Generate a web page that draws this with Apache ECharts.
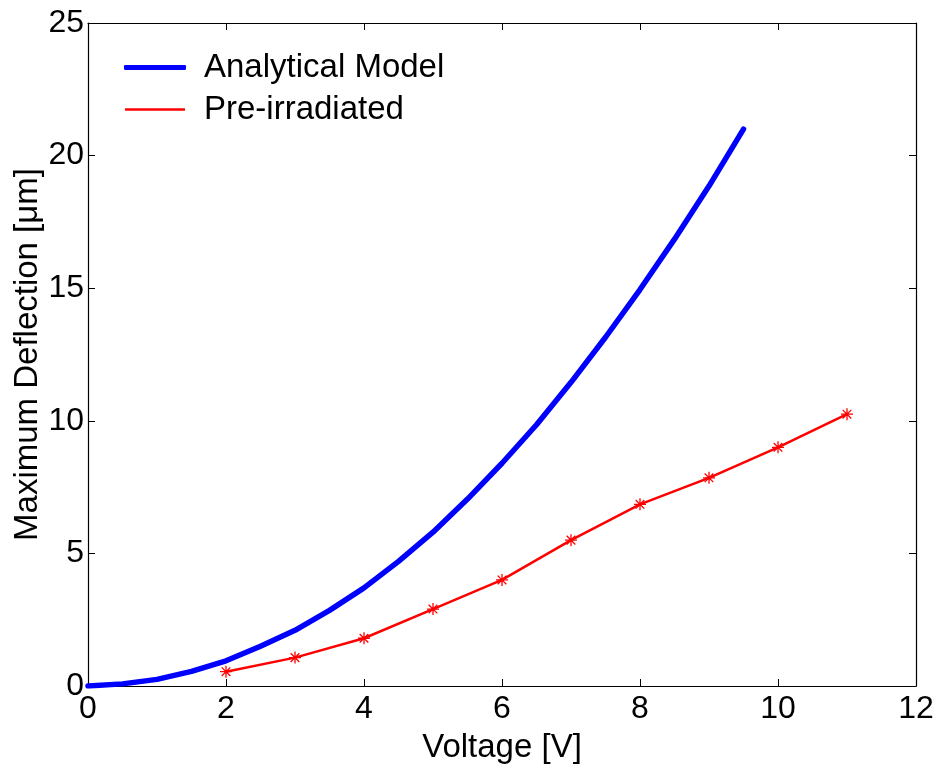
<!DOCTYPE html>
<html>
<head>
<meta charset="utf-8">
<script src="https://cdn.jsdelivr.net/npm/echarts@6/dist/echarts.min.js"></script>
<style>
  html, body { margin: 0; padding: 0; background: #fff; }
  #chart { width: 943px; height: 767px; }
</style>
</head>
<body>
<div id="chart"></div>
<script>
// Analytical model, sampled every 0.5 V
const modelVoltage = [0, 0.5, 1, 1.5, 2, 2.5, 3, 3.5, 4, 4.5, 5, 5.5, 6, 6.5, 7, 7.5, 8, 8.5, 9, 9.5];
const modelDeflection = [0, 0.08, 0.25, 0.55, 0.95, 1.5, 2.1, 2.85, 3.7, 4.7, 5.8, 7.05, 8.4, 9.85, 11.45, 13.15, 14.95, 16.85, 18.85, 21.0];

// Measured, pre-irradiated device
const measVoltage = [2, 3, 4, 5, 6, 7, 8, 9, 10, 11];
const measDeflection = [0.54, 1.07, 1.8, 2.9, 4.0, 5.5, 6.85, 7.85, 9.0, 10.25];

const xTicks = [0, 2, 4, 6, 8, 10, 12];
const yTicks = [0, 5, 10, 15, 20, 25];

const FONT = '"Liberation Sans", Arial, Helvetica, sans-serif';
const FS = 33;
const asterisk = 'path://M0,-5L0,5M-5,0L5,0M-3.6,-3.6L3.6,3.6M-3.6,3.6L3.6,-3.6';

const chart = echarts.init(document.getElementById('chart'), null, { renderer: 'canvas' });

const axisLine = { show: true, onZero: false, lineStyle: { color: '#000', width: 1.2 } };
const tickIn = { show: true, inside: true, length: 7, lineStyle: { color: '#000', width: 1 } };
const legendText = { fontFamily: FONT, fontSize: FS, color: '#000', padding: [0, 0, 0, 13] };

chart.setOption({
  animation: false,
  backgroundColor: '#fff',
  grid: { left: 88, right: 27, top: 23, bottom: 81, containLabel: false, outerBoundsMode: 'none' },
  legend: [
    {
      data: ['Analytical Model'],
      left: 124, top: 51, padding: 0,
      icon: 'roundRect',
      itemWidth: 62, itemHeight: 5,
      textStyle: legendText
    },
    {
      data: ['Pre-irradiated'],
      left: 125, top: 93, padding: 0,
      icon: 'rect',
      itemWidth: 60, itemHeight: 2.5,
      itemStyle: { color: '#ff0000', borderWidth: 0 },
      textStyle: Object.assign({}, legendText, { padding: [0, 0, 0, 14] })
    }
  ],
  xAxis: [
    {
      type: 'value', min: 0, max: 12, interval: 2,
      name: 'Voltage [V]', nameLocation: 'middle', nameGap: 45, nameMoveOverlap: false,
      nameTextStyle: { fontFamily: FONT, fontSize: FS, color: '#000' },
      axisLine: axisLine, axisTick: tickIn,
      axisLabel: { fontFamily: FONT, fontSize: 32, color: '#000', margin: 7,
        formatter: v => xTicks.includes(v) ? String(v) : '' },
      splitLine: { show: false }
    },
    {
      type: 'value', position: 'top', min: 0, max: 12, interval: 2,
      axisLine: axisLine, axisTick: tickIn, axisLabel: { show: false }, splitLine: { show: false }
    }
  ],
  yAxis: [
    {
      type: 'value', min: 0, max: 25, interval: 5,
      name: 'Maximum Deflection [\u03bcm]', nameLocation: 'middle', nameGap: 44, nameMoveOverlap: false,
      nameTextStyle: { fontFamily: FONT, fontSize: FS, color: '#000' },
      axisLine: axisLine, axisTick: tickIn,
      axisLabel: { fontFamily: FONT, fontSize: 32, color: '#000', margin: 4,
        formatter: v => yTicks.includes(v) ? String(v) : '' },
      splitLine: { show: false }
    },
    {
      type: 'value', position: 'right', min: 0, max: 25, interval: 5,
      axisLine: axisLine, axisTick: tickIn, axisLabel: { show: false }, splitLine: { show: false }
    }
  ],
  series: [
    {
      name: 'Analytical Model',
      type: 'line',
      data: modelVoltage.map((v, i) => [v, modelDeflection[i]]),
      showSymbol: false,
      symbol: 'none',
      lineStyle: { color: '#0000ff', width: 5.5, cap: 'round', join: 'round' },
      itemStyle: { color: '#0000ff' }
    },
    {
      name: 'Pre-irradiated',
      type: 'line',
      data: measVoltage.map((v, i) => [v, measDeflection[i]]),
      symbol: asterisk,
      symbolSize: 12,
      showAllSymbol: true,
      lineStyle: { color: '#ff0000', width: 2.5 },
      itemStyle: { color: 'rgba(0,0,0,0)', borderColor: '#ff0000', borderWidth: 1.3 }
    }
  ]
});
</script>
</body>
</html>
